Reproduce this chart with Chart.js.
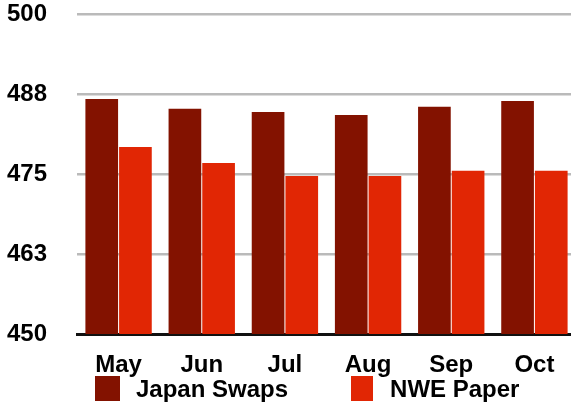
<!DOCTYPE html>
<html>
<head>
<meta charset="utf-8">
<script src="https://cdn.jsdelivr.net/npm/chart.js@4/dist/chart.umd.min.js"></script>
<style>
  body { margin: 0; background: #fff; overflow: hidden; }
  #wrap { position: relative; width: 576px; height: 405px; }
  #legend {
    position: absolute; left: 95px; top: 376px; height: 25px;
    display: flex; align-items: center;
    font: bold 24px "Liberation Sans", Arial, sans-serif; color: #000;
  }
  .item { display: flex; align-items: center; line-height: 25px; }
  .item + .item { margin-left: 63px; }
  .box { width: 25px; height: 25px; margin-right: 16px; }
  .item + .item .box { width: 22px; margin-right: 17px; }
</style>
</head>
<body>
<div id="wrap">
  <canvas id="chart" width="576" height="405"></canvas>
  <div id="legend"></div>
</div>
<script>
// months on the x axis
const months = ["May", "Jun", "Jul", "Aug", "Sep", "Oct"];
const japanSwaps = [486.7, 485.2, 484.7, 484.2, 485.5, 486.4];
const nwePaper = [479.2, 476.7, 474.7, 474.7, 475.5, 475.5];
const yTicks = [450, 462.5, 475, 487.5, 500];

const seriesNames = ["Japan Swaps", "NWE Paper"];
const seriesColors = ["#831200", "#e12604"];

const font = { family: "'Liberation Sans', Arial, sans-serif", size: 24, weight: "bold" };

const chart = new Chart(document.getElementById("chart"), {
  type: "bar",
  data: {
    labels: months,
    datasets: [
      {
        label: seriesNames[0],
        data: japanSwaps,
        backgroundColor: seriesColors[0],
        barPercentage: 0.97,
        categoryPercentage: 0.81,
      },
      {
        label: seriesNames[1],
        data: nwePaper,
        backgroundColor: seriesColors[1],
        barPercentage: 0.97,
        categoryPercentage: 0.81,
      },
    ],
  },
  options: {
    responsive: false,
    animation: false,
    layout: { padding: { left: 7, right: 0, top: 0, bottom: 21 } },
    plugins: {
      legend: { display: false },
      tooltip: { enabled: false },
    },
    scales: {
      x: {
        grid: { display: false },
        border: { display: true, color: "#111", width: 3 },
        ticks: { color: "#000", font: font, padding: 9, maxRotation: 0 },
        afterFit: (axis) => {
          axis.height = 50;
          axis.paddingLeft = 0;
          axis.paddingRight = 0;
        },
      },
      y: {
        min: 450,
        max: 500,
        afterBuildTicks: (axis) => {
          axis.ticks = yTicks.map((v) => ({ value: v }));
        },
        grid: { color: "#bababa", lineWidth: 2.5, drawTicks: false },
        border: { display: false },
        ticks: {
          color: "#000",
          font: font,
          padding: 30,
          callback: (v) => Math.round(v),
        },
        afterFit: (axis) => {
          axis.width = 70;
          axis.paddingTop = 14;
          axis.paddingBottom = 0;
        },
      },
    },
  },
});

// legend below the chart, built from the datasets
const legend = document.getElementById("legend");
chart.data.datasets.forEach((ds) => {
  const item = document.createElement("div");
  item.className = "item";
  const box = document.createElement("div");
  box.className = "box";
  box.style.background = ds.backgroundColor;
  const text = document.createElement("span");
  text.textContent = ds.label;
  item.appendChild(box);
  item.appendChild(text);
  legend.appendChild(item);
});
</script>
</body>
</html>
